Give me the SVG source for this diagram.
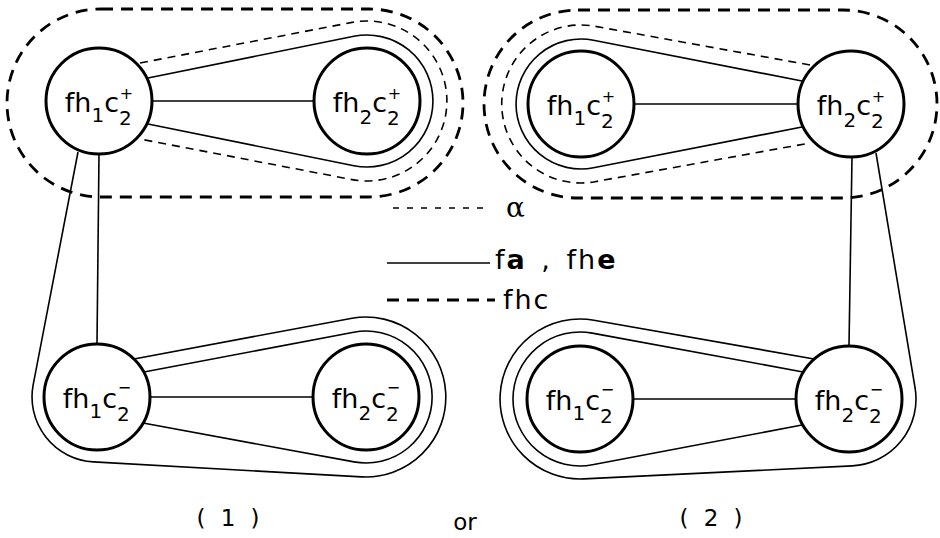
<svg xmlns="http://www.w3.org/2000/svg" width="940" height="538" viewBox="0 0 940 538">
<style>
  .ln{fill:none;stroke:#000;stroke-width:1.6}
  .dsh{stroke-dasharray:8 6}
  .fhc{stroke-width:2.8;stroke-dasharray:12 8}
  .node circle{fill:#fff;stroke:#000;stroke-width:3}
  text{font-family:"DejaVu Sans","Liberation Sans",sans-serif;fill:#000}
  .lbl{font-size:27px}
  .sub{font-size:20px}
  .sup{font-size:16px}
  .leg{font-size:27px;letter-spacing:2px}
  .cap{font-size:23px}
</style>
<rect width="940" height="538" fill="#fff"/>
<g id="connectors">
  <!-- diagram (1) top -->
  <rect class="ln fhc" x="7" y="9" width="456" height="188" rx="94"/>
  <path class="ln dsh" d="M140 63 L352 22.4 A80 80 0 1 1 352 179.6 L140 139"/>
  <path class="ln" d="M148 78 L353.9 36.3 A66 66 0 1 1 353.9 165.7 L148 124"/>
  <line class="ln" x1="152" y1="101" x2="314" y2="101"/>
  <line class="ln" x1="99" y1="154" x2="97" y2="344"/>
  <!-- diagram (1) bottom -->
  <path class="ln" d="M78 152 L33.2 384.7 A65 65 0 0 0 93.4 461.9 L361.5 476.9 A80 80 0 1 0 352.1 318.2 L134 359"/>
  <path class="ln" d="M144 372 L353.7 332.2 A66 66 0 1 1 354 461.9 L143 423"/>
  <line class="ln" x1="150" y1="397" x2="313" y2="397"/>
  <!-- diagram (2) top -->
  <rect class="ln fhc" x="484" y="10" width="453" height="188" rx="94"/>
  <path class="ln dsh" d="M810 65 L595 26.3 A79 79 0 1 0 595 181.7 L810 143"/>
  <path class="ln" d="M802 81 L593.5 40.2 A65 65 0 1 0 593.5 167.8 L802 127"/>
  <line class="ln" x1="634" y1="104" x2="798" y2="104"/>
  <line class="ln" x1="852" y1="157" x2="849" y2="346"/>
  <!-- diagram (2) bottom -->
  <path class="ln" d="M876 153 L915.1 388 A67 67 0 0 1 852.2 465.9 L583.9 478.9 A80 80 0 1 1 593.9 320.2 L814 359"/>
  <path class="ln" d="M803 372 L592.2 333.1 A67 67 0 1 0 592.5 464.8 L802 425"/>
  <line class="ln" x1="633" y1="399" x2="796" y2="399"/>
  <!-- legend -->
  <line class="ln dsh" x1="393" y1="208" x2="486" y2="208" style="stroke-dasharray:6 8"/>
  <line class="ln" x1="387" y1="263" x2="490" y2="263"/>
  <line class="ln fhc" x1="387" y1="300" x2="495" y2="300"/>
</g>
<g id="legend">
  <text x="506" y="217" style="font-size:28px;font-family:'DejaVu Serif','Liberation Serif',serif">α</text>
  <text class="leg" x="495" y="269">f<tspan font-weight="bold">a</tspan> <tspan dx="4">,</tspan> <tspan dx="4">fh</tspan><tspan font-weight="bold">e</tspan></text>
  <text class="leg" x="503" y="309">fhc</text>
</g>
<g id="n1-top-left" class="node">
  <circle cx="99" cy="101" r="53"/>
  <text class="lbl" x="99" y="112" text-anchor="middle">fh<tspan class="sub" dy="10">1</tspan><tspan dy="-10">c</tspan><tspan class="sub" dy="13">2</tspan><tspan class="sup" dx="-12" dy="-26">+</tspan></text>
</g>
<g id="n1-top-right" class="node">
  <circle cx="367" cy="101" r="53"/>
  <text class="lbl" x="367" y="112" text-anchor="middle">fh<tspan class="sub" dy="12">2</tspan><tspan dy="-12">c</tspan><tspan class="sub" dy="13">2</tspan><tspan class="sup" dx="-12" dy="-26">+</tspan></text>
</g>
<g id="n1-bottom-left" class="node">
  <circle cx="97" cy="397" r="53"/>
  <text class="lbl" x="97" y="408" text-anchor="middle">fh<tspan class="sub" dy="10">1</tspan><tspan dy="-10">c</tspan><tspan class="sub" dy="13">2</tspan><tspan class="sup" dx="-12" dy="-28">−</tspan></text>
</g>
<g id="n1-bottom-right" class="node">
  <circle cx="366" cy="397" r="53"/>
  <text class="lbl" x="366" y="408" text-anchor="middle">fh<tspan class="sub" dy="12">2</tspan><tspan dy="-12">c</tspan><tspan class="sub" dy="13">2</tspan><tspan class="sup" dx="-12" dy="-28">−</tspan></text>
</g>
<g id="n2-top-left" class="node">
  <circle cx="581" cy="104" r="53"/>
  <text class="lbl" x="581" y="115" text-anchor="middle">fh<tspan class="sub" dy="10">1</tspan><tspan dy="-10">c</tspan><tspan class="sub" dy="13">2</tspan><tspan class="sup" dx="-12" dy="-26">+</tspan></text>
</g>
<g id="n2-top-right" class="node">
  <circle cx="851" cy="104" r="53"/>
  <text class="lbl" x="851" y="115" text-anchor="middle">fh<tspan class="sub" dy="12">2</tspan><tspan dy="-12">c</tspan><tspan class="sub" dy="13">2</tspan><tspan class="sup" dx="-12" dy="-26">+</tspan></text>
</g>
<g id="n2-bottom-left" class="node">
  <circle cx="580" cy="399" r="53"/>
  <text class="lbl" x="580" y="410" text-anchor="middle">fh<tspan class="sub" dy="10">1</tspan><tspan dy="-10">c</tspan><tspan class="sub" dy="13">2</tspan><tspan class="sup" dx="-12" dy="-28">−</tspan></text>
</g>
<g id="n2-bottom-right" class="node">
  <circle cx="849" cy="399" r="53"/>
  <text class="lbl" x="849" y="410" text-anchor="middle">fh<tspan class="sub" dy="12">2</tspan><tspan dy="-12">c</tspan><tspan class="sub" dy="13">2</tspan><tspan class="sup" dx="-12" dy="-28">−</tspan></text>
</g>
<g id="captions">
  <text class="cap" x="228" y="526" text-anchor="middle" word-spacing="8">( 1 )</text>
  <text class="cap" x="465" y="530" text-anchor="middle">or</text>
  <text class="cap" x="711" y="526" text-anchor="middle" word-spacing="8">( 2 )</text>
</g>
</svg>
